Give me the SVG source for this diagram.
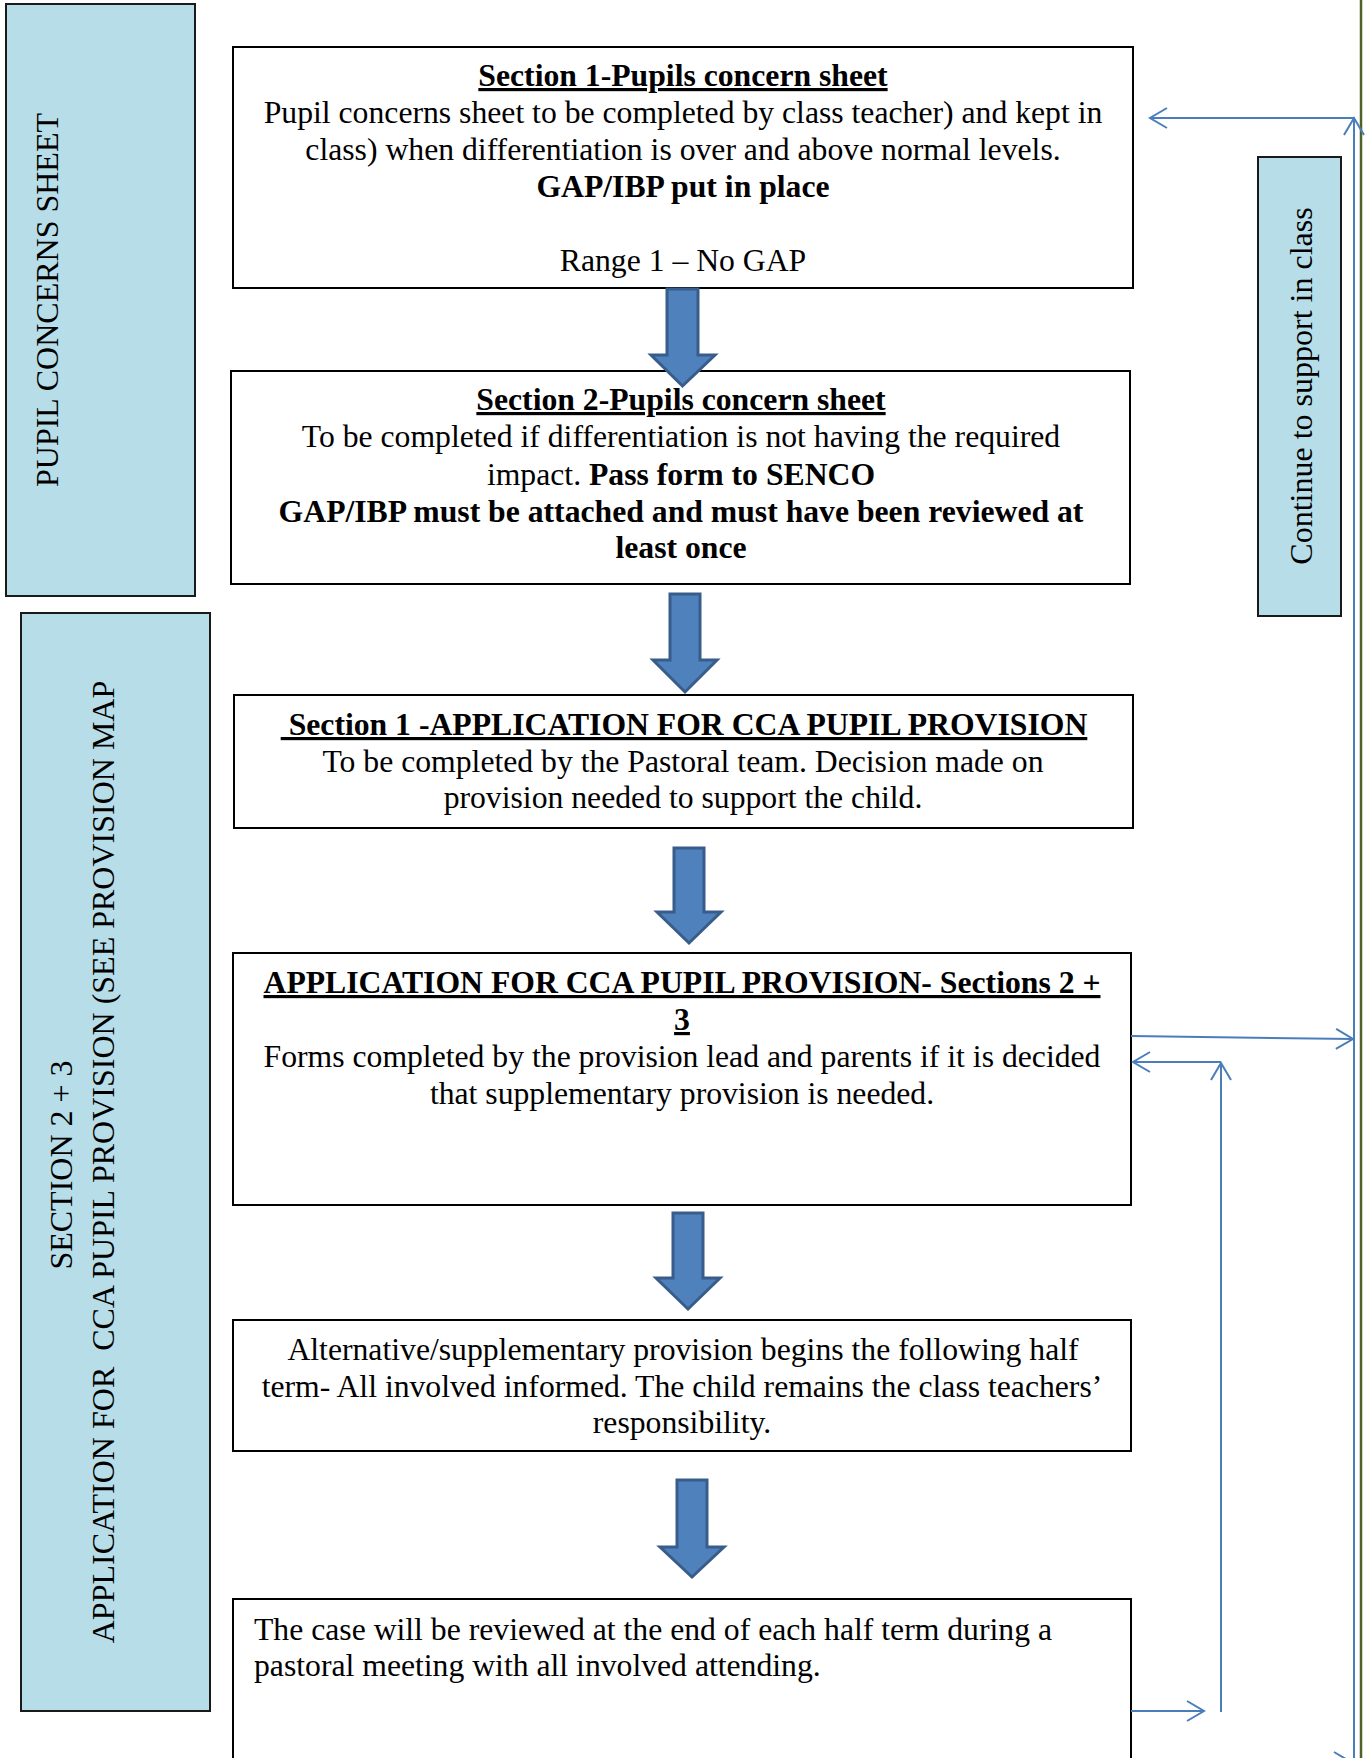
<svg xmlns="http://www.w3.org/2000/svg" width="1366" height="1758" viewBox="0 0 1366 1758">
<style>
.bg{fill:#ffffff}
.box{fill:#ffffff;stroke:#000000;stroke-width:2}
.panel{fill:#b7dee8;stroke:#1a1a1a;stroke-width:2}
.t{font-family:"Liberation Serif","Times New Roman",serif;font-size:31.7px;fill:#000000}
.c{text-anchor:middle}
.b{font-weight:bold}
.u{text-decoration:underline}
.p{font-family:"Liberation Serif","Times New Roman",serif;font-size:32px;fill:#000000;text-anchor:middle;white-space:pre}
.blk{fill:#4f81bd;stroke:#385d8a;stroke-width:3;stroke-linejoin:miter}
.ln{fill:none;stroke:#4a7ebb;stroke-width:2}
.green{fill:none;stroke:#4f6228;stroke-width:2.5}
</style>
<defs>
<marker id="open" markerUnits="userSpaceOnUse" markerWidth="22" markerHeight="24" refX="17" refY="10" orient="auto" viewBox="-2 -2 22 24">
<path d="M0,0 L17,10 L0,20" fill="none" stroke="#4a7ebb" stroke-width="2"/>
</marker>
</defs>
<rect class="bg" x="0" y="0" width="1366" height="1758"/>

<g id="panel-pupil-concerns">
<rect class="panel" x="6" y="4" width="189" height="592"/>
<text class="p" transform="translate(58,300) rotate(-90)">PUPIL CONCERNS SHEET</text>
</g>

<g id="panel-application">
<rect class="panel" x="21" y="613" width="189" height="1098"/>
<text class="p" transform="translate(72,1165) rotate(-90)">SECTION 2 + 3</text>
<text class="p" transform="translate(114,1162) rotate(-90)">APPLICATION FOR  CCA PUPIL PROVISION (SEE PROVISION MAP</text>
</g>

<g id="panel-continue">
<rect class="panel" x="1258" y="157" width="83" height="459"/>
<text class="p" transform="translate(1312,386) rotate(-90)">Continue to support in class</text>
</g>

<g id="box1">
<rect class="box" x="233" y="47" width="900" height="241"/>
<text class="t c b u" x="683" y="86">Section 1-Pupils concern sheet</text>
<text class="t c" x="683" y="123">Pupil concerns sheet to be completed by class teacher) and kept in</text>
<text class="t c" x="683" y="160">class) when differentiation is over and above normal levels.</text>
<text class="t c b" x="683" y="197">GAP/IBP put in place</text>
<text class="t c" x="683" y="271">Range 1 – No GAP</text>
</g>

<g id="box2">
<rect class="box" x="231" y="371" width="899" height="213"/>
<text class="t c b u" x="681" y="410">Section 2-Pupils concern sheet</text>
<text class="t c" x="681" y="447">To be completed if differentiation is not having the required</text>
<text class="t c" x="681" y="485">impact. <tspan class="b">Pass form to SENCO</tspan></text>
<text class="t c b" x="681" y="522">GAP/IBP must be attached and must have been reviewed at</text>
<text class="t c b" x="681" y="558">least once</text>
</g>

<g id="box3">
<rect class="box" x="234" y="695" width="899" height="133"/>
<text class="t c b u" style="white-space:pre" x="684" y="735"> Section 1 -APPLICATION FOR CCA PUPIL PROVISION</text>
<text class="t c" x="683" y="772">To be completed by the Pastoral team. Decision made on</text>
<text class="t c" x="683" y="808">provision needed to support the child.</text>
</g>

<g id="box4">
<rect class="box" x="233" y="953" width="898" height="252"/>
<text class="t c b u" x="682" y="993">APPLICATION FOR CCA PUPIL PROVISION- Sections 2 +</text>
<text class="t c b u" x="682" y="1030">3</text>
<text class="t c" x="682" y="1067">Forms completed by the provision lead and parents if it is decided</text>
<text class="t c" x="682" y="1104">that supplementary provision is needed.</text>
</g>

<g id="box5">
<rect class="box" x="233" y="1320" width="898" height="131"/>
<text class="t c" x="683" y="1360">Alternative/supplementary provision begins the following half</text>
<text class="t c" x="682" y="1397">term- All involved informed. The child remains the class teachers’</text>
<text class="t c" x="682" y="1433">responsibility.</text>
</g>

<g id="box6">
<rect class="box" x="233" y="1599" width="898" height="180"/>
<text class="t" x="254" y="1640">The case will be reviewed at the end of each half term during a</text>
<text class="t" x="254" y="1676">pastoral meeting with all involved attending.</text>
</g>

<g id="connectors">
<line class="green" x1="1361" y1="0" x2="1361" y2="1758"/>
<polygon class="blk" points="667,289 698,289 698,355 715,355 682.5,386 651,355 667,355"/>
<polygon class="blk" points="670,594 700,594 700,660 717,660 685,692 653,660 670,660"/>
<polygon class="blk" points="674,848 704,848 704,912 721,912 689,943 657,912 674,912"/>
<polygon class="blk" points="673,1213 703,1213 703,1278 720,1278 688,1309 656,1278 673,1278"/>
<polygon class="blk" points="677,1480 707,1480 707,1547 724,1547 692,1577 660,1547 677,1547"/>
<line class="ln" x1="1354" y1="1775" x2="1354" y2="118" marker-end="url(#open)"/>
<line class="ln" x1="1354" y1="118" x2="1150" y2="118" marker-end="url(#open)"/>
<line class="ln" x1="1131" y1="1036" x2="1353" y2="1039" marker-end="url(#open)"/>
<line class="ln" x1="1221" y1="1712" x2="1221" y2="1063" marker-end="url(#open)"/>
<line class="ln" x1="1221" y1="1062" x2="1133" y2="1062" marker-end="url(#open)"/>
<line class="ln" x1="1131" y1="1711" x2="1204" y2="1711" marker-end="url(#open)"/>
<line class="ln" x1="1131" y1="1762" x2="1351" y2="1762" marker-end="url(#open)"/>
</g>
</svg>
